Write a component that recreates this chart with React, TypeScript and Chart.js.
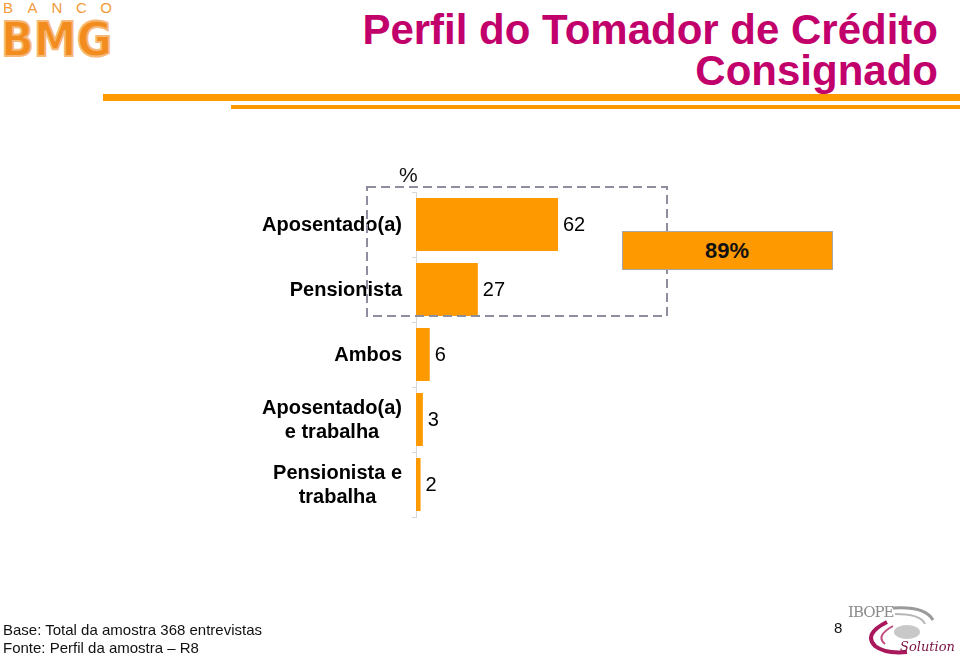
import React, { useEffect, useRef } from "react";
import { Chart, registerables } from "chart.js";

Chart.register(...registerables);

const categories: string[][] = [
  ["Aposentado(a)"],
  ["Pensionista"],
  ["Ambos"],
  ["Aposentado(a)", "e trabalha"],
  ["Pensionista e", "trabalha"],
];
const values: number[] = [62, 27, 6, 3, 2];
const highlightText = "89%";
const unitText = "%";
const titleLines = ["Perfil do Tomador de Crédito", "Consignado"];
const footerLines = ["Base: Total da amostra 368 entrevistas", "Fonte: Perfil da amostra – R8"];
const pageNumber = "8";

const FONT = '"Liberation Sans", Arial, Helvetica, sans-serif';
const ORANGE = "#FF9900";

const labelPlugin = {
  id: "customLabels",
  afterDatasetsDraw(chart: any) {
    const ctx = chart.ctx;
    const meta = chart.getDatasetMeta(0);
    ctx.save();
    // value labels
    ctx.font = `20px ${FONT}`;
    ctx.fillStyle = "#000";
    ctx.textBaseline = "middle";
    ctx.textAlign = "left";
    meta.data.forEach((bar: any, i: number) => {
      ctx.fillText(String(values[i]), bar.x + 5, bar.y + 1);
    });
    // category labels
    const yScale = chart.scales.y;
    ctx.font = `bold 20px ${FONT}`;
    ctx.textAlign = "center";
    const rightEdge = chart.chartArea.left - 14;
    const lh = 24;
    categories.forEach((lines, i) => {
      const yc = yScale.getPixelForValue(i);
      const widest = Math.max(...lines.map((l) => ctx.measureText(l).width));
      const cx = rightEdge - widest / 2;
      const startY = yc - ((lines.length - 1) * lh) / 2;
      lines.forEach((l, j) => ctx.fillText(l, cx, startY + j * lh + 1));
    });
    ctx.restore();
  },
};

function ChartCanvas() {
  const ref = useRef<HTMLCanvasElement | null>(null);
  useEffect(() => {
    if (!ref.current) return;
    const chart = new Chart(ref.current, {
      type: "bar",
      data: {
        labels: categories.map((c) => c.join(" ")),
        datasets: [
          {
            data: values,
            backgroundColor: ORANGE,
            borderWidth: 0,
            barPercentage: 0.815,
            categoryPercentage: 1,
          },
        ],
      },
      options: {
        indexAxis: "y",
        animation: false,
        responsive: false,
        maintainAspectRatio: false,
        layout: { padding: { left: 412, right: 315, top: 192, bottom: 141 } },
        plugins: { legend: { display: false }, tooltip: { enabled: false }, title: { display: false } },
        scales: {
          x: { display: false, min: 0, max: 100 },
          y: {
            display: true,
            position: "left",
            ticks: { display: false },
            grid: { drawOnChartArea: false, drawTicks: true, tickLength: 4, color: "#d8d8d8", offset: true },
            border: { color: "#d8d8d8" },
            afterFit: (s: any) => {
              s.width = 4;
            },
          },
        },
      },
      plugins: [labelPlugin],
    } as any);
    return () => chart.destroy();
  }, []);
  return (
    <canvas
      ref={ref}
      width={960}
      height={658}
      style={{ position: "absolute", left: 0, top: 0, width: 960, height: 658 }}
    />
  );
}

export default function App() {
  return (
    <div
      style={{
        position: "fixed",
        left: 0,
        top: 0,
        width: 960,
        height: 658,
        background: "#fff",
        overflow: "hidden",
        fontFamily: FONT,
      }}
    >
      {/* BMG logo */}
      <svg width={120} height={62} style={{ position: "absolute", left: 0, top: 0 }}>
        {"BANCO".split("").map((ch, i) => (
          <text key={i} x={8 + i * 24.5} y={13} fontSize={15} fill="#F39A3C" fontFamily={FONT} textAnchor="middle">
            {ch}
          </text>
        ))}
        <text
          x={1}
          y={56}
          fontSize={48}
          fontWeight={900}
          fontFamily='"DejaVu Sans", sans-serif'
          fill="#F28C1E"
          stroke="#F6B877"
          strokeWidth={2}
          textLength={111}
          lengthAdjust="spacingAndGlyphs"
        >
          BMG
        </text>
      </svg>

      {/* Title */}
      <div
        style={{
          position: "absolute",
          right: 22,
          top: 9,
          textAlign: "right",
          color: "#C2006B",
          fontWeight: "bold",
          fontSize: 42,
          lineHeight: "41px",
          whiteSpace: "nowrap",
        }}
      >
        {titleLines.map((t, i) => (
          <div key={i}>{t}</div>
        ))}
      </div>

      {/* orange rules */}
      <div style={{ position: "absolute", left: 103, top: 94, width: 857, height: 7, background: ORANGE }} />
      <div style={{ position: "absolute", left: 231, top: 105, width: 729, height: 4, background: ORANGE }} />

      <ChartCanvas />

      {/* % unit */}
      <div style={{ position: "absolute", left: 399, top: 163, fontSize: 21, lineHeight: "24px", color: "#111" }}>
        {unitText}
      </div>

      {/* annotations */}
      <svg width={960} height={658} style={{ position: "absolute", left: 0, top: 0, pointerEvents: "none" }}>
        <rect x={367} y={187} width={300} height={129} fill="none" stroke="#8E8E9E" strokeWidth={2} strokeDasharray="9 5" />
        <rect x={622.5} y={231.5} width={210} height={38} fill={ORANGE} stroke="#A8A8A8" strokeWidth={1} />
        <text x={727} y={258} textAnchor="middle" fontSize={22} fontWeight="bold" fontFamily={FONT} fill="#111">
          {highlightText}
        </text>
      </svg>

      {/* footer */}
      <div style={{ position: "absolute", left: 3, top: 621, fontSize: 15, lineHeight: "17.5px", color: "#111", whiteSpace: "nowrap" }}>
        {footerLines.map((t, i) => (
          <div key={i}>{t}</div>
        ))}
      </div>
      <div style={{ position: "absolute", left: 834, top: 618, fontSize: 15, lineHeight: "20px", color: "#111" }}>
        {pageNumber}
      </div>

      {/* IBOPE Solution logo */}
      <svg width={115} height={58} style={{ position: "absolute", left: 845, top: 600 }}>
        <text x={3} y={17} fontSize={15} fontFamily='"DejaVu Serif", serif' fill="#8A8A8A" letterSpacing={-1}>
          IBOPE
        </text>
        <path d="M48 8 Q80 6 88 20" fill="none" stroke="#9A9A9A" strokeWidth={3} />
        <path d="M50 14 Q76 14 80 24" fill="none" stroke="#B5B5B5" strokeWidth={2} />
        <ellipse cx={62} cy={32} rx={13} ry={7} fill="#C8C8C8" />
        <path d="M42 22 Q18 34 30 46 Q40 54 62 52" fill="none" stroke="#A8185A" strokeWidth={4} />
        <path d="M48 26 Q30 36 40 44" fill="none" stroke="#C04C80" strokeWidth={2} />
        <text x={55} y={51} fontSize={13} fontStyle="italic" fontFamily='"DejaVu Serif", serif' fill="#7A1042">
          Solution
        </text>
      </svg>
    </div>
  );
}
